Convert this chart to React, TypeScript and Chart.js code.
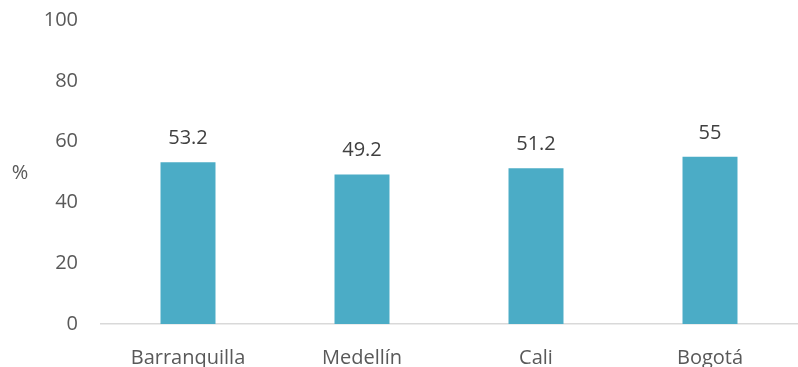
import React, { useEffect, useRef } from "react";
import { Chart, registerables } from "chart.js";

Chart.register(...registerables);

const categories = ["Barranquilla", "Medellín", "Cali", "Bogotá"];
const values = [53.2, 49.2, 51.2, 55];
const valueLabels = ["53.2", "49.2", "51.2", "55"];
const yTicks = [0, 20, 40, 60, 80, 100];

const FONT = "'Open Sans', sans-serif";
const TEXT = "#595959";

const extrasPlugin = {
  id: "extras",
  afterDatasetsDraw(chart: any) {
    const ctx = chart.ctx;
    const meta = chart.getDatasetMeta(0);
    ctx.save();
    ctx.fillStyle = "#404040";
    ctx.font = `20px ${FONT}`;
    ctx.textAlign = "center";
    ctx.textBaseline = "alphabetic";
    meta.data.forEach((bar: any, i: number) => {
      ctx.fillText(valueLabels[i], bar.x, bar.y - 18);
    });
    ctx.fillStyle = TEXT;
    ctx.textAlign = "center";
    ctx.textBaseline = "middle";
    const yScale = chart.scales.y;
    ctx.fillText("%", 20, (yScale.top + yScale.bottom) / 2 + 1);
    ctx.restore();
  },
};

export default function App() {
  const ref = useRef<HTMLCanvasElement>(null);
  useEffect(() => {
    document.body.style.margin = "0";
    const chart = new Chart(ref.current!, {
      type: "bar",
      data: {
        labels: categories,
        datasets: [
          {
            data: values,
            backgroundColor: "#4BACC6",
            borderWidth: 0,
            categoryPercentage: 1,
            barPercentage: 0.316,
          },
        ],
      },
      options: {
        animation: false,
        responsive: false,
        maintainAspectRatio: false,
        layout: { padding: { top: 20, right: 1, left: 0, bottom: 0 } },
        plugins: { legend: { display: false }, tooltip: { enabled: false } },
        scales: {
          x: {
            grid: { display: false },
            border: { display: true, color: "#d9d9d9", width: 1.5 },
            ticks: { color: TEXT, font: { family: FONT, size: 20 }, padding: 14, maxRotation: 0 },
            afterFit(scale: any) {
              scale.height = 43;
            },
          },
          y: {
            min: 0,
            max: 100,
            afterBuildTicks(scale: any) {
              scale.ticks = yTicks.map((v) => ({ value: v }));
            },
            grid: { display: false, drawTicks: false },
            border: { display: false },
            ticks: { color: TEXT, font: { family: FONT, size: 20 }, padding: 23 },
            afterFit(scale: any) {
              scale.width = 101;
              scale.paddingTop = 0;
              scale.paddingBottom = 0;
            },
          },
        },
      },
      plugins: [extrasPlugin],
    });
    return () => chart.destroy();
  }, []);
  return <canvas ref={ref} width={798} height={367} style={{ display: "block" }} />;
}
